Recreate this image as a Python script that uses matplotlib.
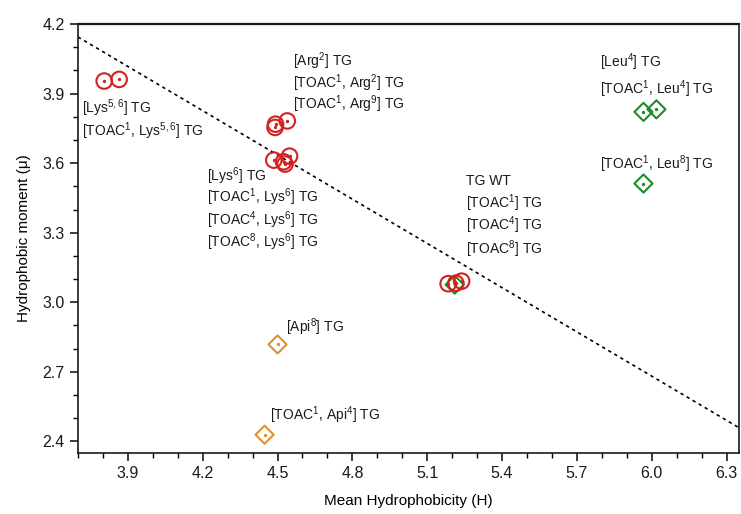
import matplotlib
matplotlib.use("Agg")
import matplotlib.pyplot as plt
from matplotlib.ticker import MultipleLocator

plt.rcParams['font.family'] = ['Liberation Sans', 'DejaVu Sans']
plt.rcParams['mathtext.fontset'] = 'custom'
plt.rcParams['mathtext.rm'] = 'Liberation Sans'
plt.rcParams['mathtext.it'] = 'Liberation Sans'
plt.rcParams['mathtext.default'] = 'regular'

# Peptide analogues: mean hydrophobicity (H) and hydrophobic moment (mu)
lys56_h = [3.805, 3.865]
lys56_mu = [3.954, 3.961]
arg_h = [4.492, 4.490, 4.539]
arg_mu = [3.768, 3.754, 3.782]
lys6_h = [4.485, 4.524, 4.548, 4.530]
lys6_mu = [3.613, 3.606, 3.630, 3.596]
toac_h = [5.184, 5.215, 5.238]
toac_mu = [3.080, 3.082, 3.091]
wt_h = [5.21]
wt_mu = [3.076]
leu_h = [5.967, 6.019, 5.967]
leu_mu = [3.821, 3.832, 3.512]
api_h = [4.50, 4.448]
api_mu = [2.818, 2.429]

# Reference boundary line
line_h = [3.70, 6.35]
line_mu = [4.144, 2.459]

RED = '#d42020'
GREEN = '#1f8a2a'
ORANGE = '#e0922a'

fig = plt.figure(figsize=(7.41, 5.14), dpi=100)
ax = fig.add_axes([78 / 741, 1 - 453 / 514, (739 - 78) / 741, (453 - 24) / 514])

ax.plot(line_h, line_mu, linestyle=(0, (2, 2.2)), color='black', lw=1.2, zorder=1)


def markers(xs, ys, marker, color, size, z=3):
    ax.scatter(xs, ys, s=size, marker=marker, facecolors='none',
               edgecolors=color, linewidths=1.5, zorder=z)
    ax.scatter(xs, ys, s=2, marker='o', color=color, zorder=z + 1)


markers(wt_h, wt_mu, 'D', GREEN, 85, z=2)
markers(lys56_h, lys56_mu, 'o', RED, 125)
markers(arg_h, arg_mu, 'o', RED, 125)
markers(lys6_h, lys6_mu, 'o', RED, 125)
markers(toac_h, toac_mu, 'o', RED, 125)
markers(leu_h, leu_mu, 'D', GREEN, 85)
markers(api_h, api_mu, 'D', ORANGE, 85)

labels = [
    (3.717, 3.837, "[Lys$^{5,6}$] TG"),
    (3.717, 3.739, "[TOAC$^{1}$, Lys$^{5,6}$] TG"),
    (4.560, 4.041, "[Arg$^{2}$] TG"),
    (4.560, 3.946, "[TOAC$^{1}$, Arg$^{2}$] TG"),
    (4.560, 3.853, "[TOAC$^{1}$, Arg$^{9}$] TG"),
    (4.219, 3.543, "[Lys$^{6}$] TG"),
    (4.219, 3.451, "[TOAC$^{1}$, Lys$^{6}$] TG"),
    (4.219, 3.356, "[TOAC$^{4}$, Lys$^{6}$] TG"),
    (4.219, 3.260, "[TOAC$^{8}$, Lys$^{6}$] TG"),
    (5.255, 3.523, "TG WT"),
    (5.255, 3.428, "[TOAC$^{1}$] TG"),
    (5.255, 3.332, "[TOAC$^{4}$] TG"),
    (5.255, 3.231, "[TOAC$^{8}$] TG"),
    (5.794, 4.035, "[Leu$^{4}$] TG"),
    (5.794, 3.918, "[TOAC$^{1}$, Leu$^{4}$] TG"),
    (5.794, 3.595, "[TOAC$^{1}$, Leu$^{8}$] TG"),
    (4.535, 2.892, "[Api$^{8}$] TG"),
    (4.471, 2.511, "[TOAC$^{1}$, Api$^{4}$] TG"),
]
for x, y, s in labels:
    ax.text(x, y, s, fontsize=10, color='#1a1a1a', ha='left', va='center',
            zorder=5)

ax.set_xlim(3.70, 6.35)
ax.set_ylim(2.35, 4.20)
ax.xaxis.set_major_locator(MultipleLocator(0.3))
ax.xaxis.set_minor_locator(MultipleLocator(0.1))
ax.yaxis.set_major_locator(MultipleLocator(0.3))
ax.yaxis.set_minor_locator(MultipleLocator(0.1))
ax.tick_params(which='major', direction='out', length=6, width=1.2,
               labelsize=11.5, colors='#1a1a1a')
ax.tick_params(which='minor', direction='out', length=3.5, width=1.0)
ax.tick_params(top=False, right=False, which='both')
for side in ax.spines.values():
    side.set_linewidth(1.2)
    side.set_color('#1a1a1a')
ax.spines['top'].set_linewidth(1.6)

ax.set_xlabel("Mean Hydrophobicity (H)", fontsize=11, labelpad=9)
ax.set_ylabel("Hydrophobic moment (\u03bc)", fontsize=11, labelpad=8)

fig.savefig("out.png", dpi=100)
